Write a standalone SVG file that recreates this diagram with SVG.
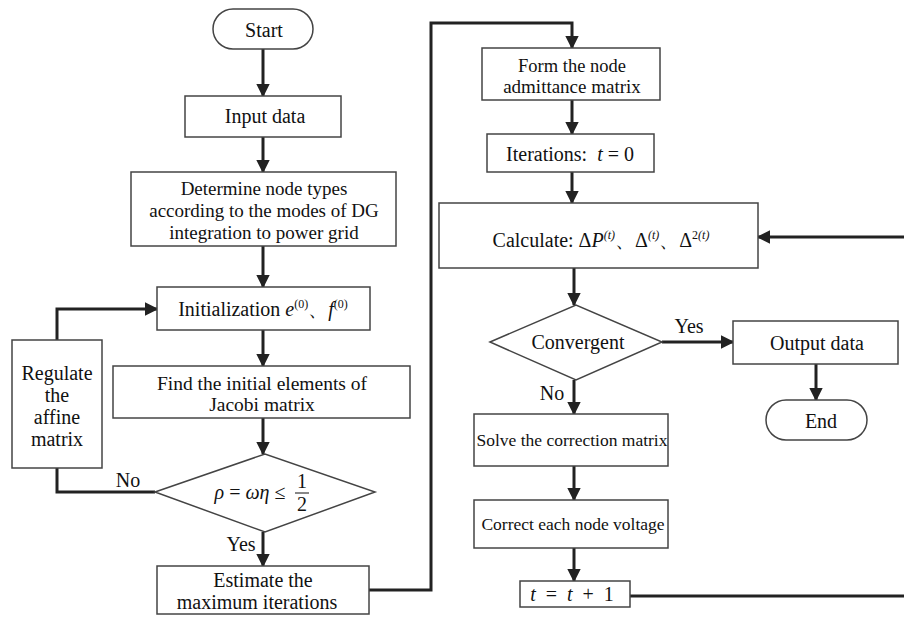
<svg xmlns="http://www.w3.org/2000/svg" width="904" height="618" viewBox="0 0 904 618">
<style>
.b{fill:#fff;stroke:#444;stroke-width:1.5}
.t{font-family:"Liberation Serif","Times New Roman",serif;font-size:20px;fill:#111;text-anchor:middle}
.i{font-style:italic}
.s{font-size:12px}
.c{fill:none;stroke:#222;stroke-width:3}
</style>
<defs>
<marker id="a" viewBox="0 0 10 10" refX="9" refY="5" markerWidth="4.5" markerHeight="4.5" orient="auto" markerUnits="strokeWidth">
<path d="M0,0 L10,5 L0,10 z" fill="#222"/>
</marker>
</defs>
<rect width="904" height="618" fill="#fff"/>
<g id="connectors">
<path class="c" d="M263,49 V96" marker-end="url(#a)"/>
<path class="c" d="M263,137 V172" marker-end="url(#a)"/>
<path class="c" d="M263,246 V287" marker-end="url(#a)"/>
<path class="c" d="M263,330 V366" marker-end="url(#a)"/>
<path class="c" d="M263,418 V454" marker-end="url(#a)"/>
<path class="c" d="M263,532 V566" marker-end="url(#a)"/>
<path class="c" d="M155,492 H57 V468"/>
<path class="c" d="M57,340 V309 H157" marker-end="url(#a)"/>
<path class="c" d="M369,590 H431 V23 H572 V48" marker-end="url(#a)"/>
<path class="c" d="M572,100 V134" marker-end="url(#a)"/>
<path class="c" d="M572,172 V203" marker-end="url(#a)"/>
<path class="c" d="M904,237 H758" marker-end="url(#a)"/>
<path class="c" d="M574,268 V305" marker-end="url(#a)"/>
<path class="c" d="M662,342 H733" marker-end="url(#a)"/>
<path class="c" d="M816,364 V400" marker-end="url(#a)"/>
<path class="c" d="M574,380 V414" marker-end="url(#a)"/>
<path class="c" d="M574,466 V500" marker-end="url(#a)"/>
<path class="c" d="M574,548 V581" marker-end="url(#a)"/>
<path class="c" d="M630,596 H904"/>
<text class="t" x="128" y="487">No</text>
<text class="t" x="241" y="551">Yes</text>
<text class="t" x="689" y="333">Yes</text>
<text class="t" x="552" y="400">No</text>
</g>
<g id="start">
<rect class="b" x="213" y="9" width="100" height="40" rx="20"/>
<text class="t" x="264" y="37">Start</text>
</g>
<g id="input">
<rect class="b" x="185" y="96" width="156" height="41"/>
<text class="t" x="265" y="123">Input data</text>
</g>
<g id="determine">
<rect class="b" x="131" y="172" width="265" height="74"/>
<text class="t" x="264" y="195" style="font-size:19px">Determine node types</text>
<text class="t" x="264" y="217" style="font-size:19px">according to the modes of DG</text>
<text class="t" x="264" y="239" style="font-size:19px">integration to power grid</text>
</g>
<g id="init">
<rect class="b" x="157" y="287" width="213" height="43"/>
<text class="t" x="263" y="316">Initialization <tspan class="i">e</tspan><tspan class="s" dy="-8">(0)</tspan><tspan dy="8">、</tspan><tspan class="i">f</tspan><tspan class="s" dy="-8">(0)</tspan></text>
</g>
<g id="jacobi">
<rect class="b" x="113" y="366" width="297" height="52"/>
<text class="t" x="262" y="390" style="font-size:19.5px">Find the initial elements of</text>
<text class="t" x="262" y="411" style="font-size:19.5px">Jacobi matrix</text>
</g>
<g id="regulate">
<rect class="b" x="12" y="340" width="90" height="128"/>
<text class="t" x="57" y="380">Regulate</text>
<text class="t" x="57" y="402">the</text>
<text class="t" x="57" y="424">affine</text>
<text class="t" x="57" y="446">matrix</text>
</g>
<g id="rho">
<polygon class="b" points="155,492 265,454 375,492 265,532"/>
<text class="t" x="250" y="499"><tspan class="i">ρ</tspan> = <tspan class="i">ωη</tspan> ≤</text>
<text class="t" x="302" y="488">1</text>
<line x1="295" y1="493" x2="309" y2="493" stroke="#111" stroke-width="1"/>
<text class="t" x="302" y="511">2</text>
</g>
<g id="estimate">
<rect class="b" x="157" y="566" width="212" height="48"/>
<text class="t" x="263" y="587">Estimate the</text>
<text class="t" x="257" y="609">maximum iterations</text>
</g>
<g id="form">
<rect class="b" x="482" y="48" width="178" height="52"/>
<text class="t" x="572" y="72" style="font-size:18.5px">Form the node</text>
<text class="t" x="572" y="93" style="font-size:19px">admittance matrix</text>
</g>
<g id="iter">
<rect class="b" x="487" y="134" width="167" height="38"/>
<text class="t" x="570" y="161" xml:space="preserve">Iterations:  <tspan class="i">t</tspan> = 0</text>
</g>
<g id="calc">
<rect class="b" x="439" y="203" width="319" height="65"/>
<text class="t" x="601" y="247">Calculate: Δ<tspan class="i">P</tspan><tspan class="s i" dy="-8">(t)</tspan><tspan dy="8">、Δ</tspan><tspan class="s i" dy="-8">(t)</tspan><tspan dy="8">、Δ</tspan><tspan class="s" dy="-8">2</tspan><tspan class="s i">(t)</tspan></text>
</g>
<g id="conv">
<polygon class="b" points="490,342 576,305 662,342 576,380"/>
<text class="t" x="578" y="349">Convergent</text>
</g>
<g id="output">
<rect class="b" x="733" y="321" width="165" height="43"/>
<text class="t" x="817" y="350">Output data</text>
</g>
<g id="end">
<rect class="b" x="766" y="400" width="101" height="40" rx="20"/>
<text class="t" x="821" y="428">End</text>
</g>
<g id="solve">
<rect class="b" x="474" y="414" width="194" height="52"/>
<text class="t" x="572" y="446" style="font-size:17.5px">Solve the correction matrix</text>
</g>
<g id="correct">
<rect class="b" x="474" y="500" width="194" height="48"/>
<text class="t" x="573" y="530" style="font-size:17.5px">Correct each node voltage</text>
</g>
<g id="tinc">
<rect class="b" x="520" y="581" width="110" height="26"/>
<text class="t" x="572" y="601" xml:space="preserve"><tspan class="i">t</tspan>  =  <tspan class="i">t</tspan>  +  1</text>
</g>
</svg>
